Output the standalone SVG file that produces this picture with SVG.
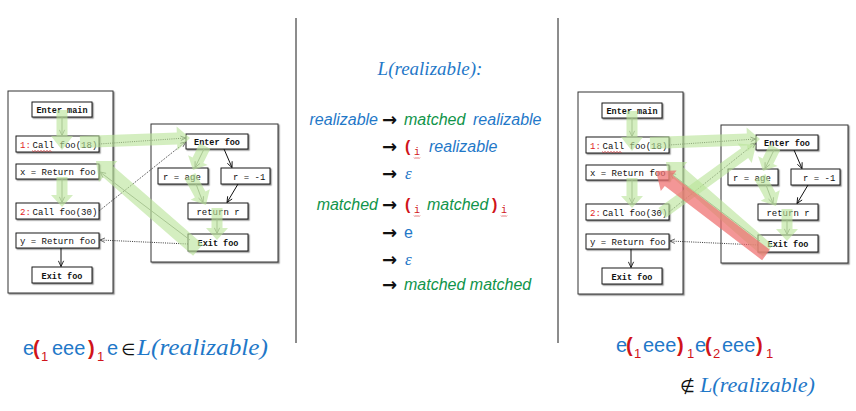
<svg xmlns="http://www.w3.org/2000/svg" width="856" height="411" viewBox="0 0 856 411">
<style>
.bx{fill:#fff;stroke:#1a1a1a;stroke-width:1;filter:url(#sh)}
.ob{fill:#fff;stroke:#333;stroke-width:1;filter:url(#sh)}
.t{font-family:"Liberation Mono","DejaVu Sans Mono",monospace;font-size:9px;fill:#111}
.tb{font-family:"Liberation Mono","DejaVu Sans Mono",monospace;font-size:8.5px;font-weight:bold;fill:#111}
.nr{fill:#e01e1e}
.gy{fill:none;stroke:#7f8a78;stroke-width:0.9}
.bk{fill:none;stroke:#111;stroke-width:1}
.dt{fill:none;stroke:#222;stroke-width:0.9;stroke-dasharray:1 1.2}
.g{fill:#b9e49a;fill-opacity:0.62}
.r{fill:#ee6e6e;fill-opacity:0.72}
.it{font-family:"Liberation Sans",Arial,sans-serif;font-style:italic;font-size:16px}
.up{font-family:"Liberation Sans",Arial,sans-serif;font-size:16px}
.ser{font-family:"Liberation Serif","Times New Roman",serif;font-style:italic}
.ar{font-family:"DejaVu Sans",sans-serif;font-weight:bold;font-size:18px;fill:#111}
.bl{fill:#1f78c8}
.gr{fill:#10944a}
.rd{fill:#d0141a}
.pb{font-weight:bold}
.sub{font-family:"Liberation Mono",monospace;font-size:10px;fill:#d0141a}
.wv{fill:none;stroke:#d0141a;stroke-width:0.6}
.big{font-family:"Liberation Sans",Arial,sans-serif;font-size:20px}
.bsub{font-family:"Liberation Sans",Arial,sans-serif;font-size:13px;fill:#d0141a}
.div{stroke:#1a1a1a;stroke-width:1}
</style>
<defs>
<filter id="sh" x="-10%" y="-10%" width="130%" height="140%">
<feDropShadow dx="1.2" dy="1.2" stdDeviation="0.7" flood-color="#000" flood-opacity="0.45"/>
</filter>
<marker id="mk" viewBox="0 0 8 8" refX="7.5" refY="4" markerWidth="7" markerHeight="7" orient="auto" markerUnits="userSpaceOnUse">
<path d="M1,1 L7.5,4 L1,7" fill="none" stroke="#111" stroke-width="1"/>
</marker>
<marker id="mg" viewBox="0 0 8 8" refX="7.5" refY="4" markerWidth="7" markerHeight="7" orient="auto" markerUnits="userSpaceOnUse">
<path d="M1,1 L7.5,4 L1,7" fill="none" stroke="#7f8a78" stroke-width="1"/>
</marker>
<marker id="md" viewBox="0 0 8 8" refX="7.5" refY="4" markerWidth="6" markerHeight="6" orient="auto" markerUnits="userSpaceOnUse">
<path d="M1,1 L7.5,4 L1,7" fill="none" stroke="#222" stroke-width="0.9"/>
</marker>
</defs>

<line class="div" x1="296" y1="18" x2="296" y2="343"/>
<line class="div" x1="558" y1="18" x2="558" y2="343"/>

<!-- LEFT DIAGRAM -->
<g id="left">
<g id="L-main-box"><rect class="ob" x="8" y="91" width="105" height="202"/></g>
<g id="L-foo-box"><rect class="ob" x="151" y="124" width="127" height="138"/></g>
<g id="L-enter-main"><rect class="bx" x="32" y="102" width="60" height="15"/><text class="tb" x="62" y="113" text-anchor="middle">Enter main</text></g>
<g id="L-call18"><rect class="bx" x="16" y="136" width="83" height="16"/><text class="t" x="20" y="148"><tspan class="nr">1:</tspan></text><text class="t" x="32.5" y="148">Call foo(18)</text><path class="wv" d="M32,150.5 l1.5,1 l1.5,-1 l1.5,1 l1.5,-1 l1.5,1 l1.5,-1 l1.5,1 l1.5,-1 l1.5,1 l1.5,-1 l1.5,1 l1.5,-1 l1.5,1"/></g>
<g id="L-ret1"><rect class="bx" x="16" y="164" width="83" height="15"/><text class="t" x="20" y="175">x = Return foo</text></g>
<g id="L-call30"><rect class="bx" x="16" y="203" width="83" height="16"/><text class="t" x="20" y="215"><tspan class="nr">2:</tspan></text><text class="t" x="32.5" y="215">Call foo(30)</text></g>
<g id="L-ret2"><rect class="bx" x="16" y="233" width="83" height="15"/><text class="t" x="20" y="244">y = Return foo</text></g>
<g id="L-exit-main"><rect class="bx" x="32" y="267" width="60" height="16"/><text class="tb" x="62" y="279" text-anchor="middle">Exit foo</text></g>
<g id="L-enter-foo"><rect class="bx" x="186" y="134" width="62" height="15"/><text class="tb" x="217" y="145" text-anchor="middle">Enter foo</text></g>
<g id="L-r-age"><rect class="bx" x="158" y="168" width="50" height="16"/><text class="t" x="163" y="180">r = age</text></g>
<g id="L-r-m1"><rect class="bx" x="221" y="168" width="49" height="16"/><text class="t" x="233" y="180">r = -1</text></g>
<g id="L-return-r"><rect class="bx" x="188" y="203" width="60" height="16"/><text class="t" x="218" y="215" text-anchor="middle">return r</text></g>
<g id="L-exit-foo"><rect class="bx" x="188" y="234" width="60" height="17"/><text class="tb" x="218" y="246" text-anchor="middle">Exit foo</text></g>
<g id="L-connectors">
<path class="gy" d="M62,117 L62,135.5" marker-end="url(#mg)"/>
<path class="gy" d="M62,179 L62,202.5" marker-end="url(#mg)"/>
<path class="gy" d="M204,149 L195,167.5" marker-end="url(#mg)"/>
<path class="gy" d="M196,184 L203,202.5" marker-end="url(#mg)"/>
<path class="gy" d="M217,219 L217,233.5" marker-end="url(#mg)"/>
<path class="gy" d="M190,240 L100,172" marker-end="url(#mg)"/>
<path class="bk" d="M224,149 L232,167.5" marker-end="url(#mk)"/>
<path class="bk" d="M238,184 L227,202.5" marker-end="url(#mk)"/>
<path class="bk" d="M61,248 L61,266.5" marker-end="url(#mk)"/>
<path class="dt" d="M99,144 L185.5,138" marker-end="url(#md)"/>
<path class="dt" d="M99,211 L185.5,142" marker-end="url(#md)"/>
<path class="dt" d="M188,244 L100,240" marker-end="url(#md)"/>
</g>
<g id="L-highlights">
<polygon class="g" points="56.5,110 56.5,136 51,136 62,150 73,136 67.5,136 67.5,110"/>
<polygon class="g" points="80.2,148 177.2,144.5 177.4,150.5 190,138 176.6,126.5 176.8,132.5 79.8,136"/>
<polygon class="g" points="199.6,143.3 192.6,157.5 188.1,155.3 193,170 207.7,165.1 203.3,162.9 210.4,148.7"/>
<polygon class="g" points="184.7,178.9 194.9,197.4 190.6,199.8 206,205 209.8,189.2 205.5,191.6 195.3,173.1"/>
<polygon class="g" points="211.5,208 211.5,228 206,228 217,240 228,228 222.5,228 222.5,208"/>
<polygon class="g" points="202.9,244.3 113,165.9 117.3,161 96,161 98.9,182.1 103.1,177.2 193.1,255.7"/>
<polygon class="g" points="56.5,177 56.5,195 51,195 62,207 73,195 67.5,195 67.5,177"/>
</g>
</g>

<!-- RIGHT DIAGRAM -->
<g id="right" transform="translate(570,1)">
<g id="R-main-box"><rect class="ob" x="8" y="91" width="105" height="202"/></g>
<g id="R-foo-box"><rect class="ob" x="151" y="124" width="127" height="138"/></g>
<g id="R-enter-main"><rect class="bx" x="32" y="102" width="60" height="15"/><text class="tb" x="62" y="113" text-anchor="middle">Enter main</text></g>
<g id="R-call18"><rect class="bx" x="16" y="136" width="83" height="16"/><text class="t" x="20" y="148"><tspan class="nr">1:</tspan></text><text class="t" x="32.5" y="148">Call foo(18)</text><path class="wv" d="M32,150.5 l1.5,1 l1.5,-1 l1.5,1 l1.5,-1 l1.5,1 l1.5,-1 l1.5,1 l1.5,-1 l1.5,1 l1.5,-1 l1.5,1 l1.5,-1 l1.5,1"/></g>
<g id="R-ret1"><rect class="bx" x="16" y="164" width="83" height="15"/><text class="t" x="20" y="175">x = Return foo</text></g>
<g id="R-call30"><rect class="bx" x="16" y="203" width="83" height="16"/><text class="t" x="20" y="215"><tspan class="nr">2:</tspan></text><text class="t" x="32.5" y="215">Call foo(30)</text></g>
<g id="R-ret2"><rect class="bx" x="16" y="233" width="83" height="15"/><text class="t" x="20" y="244">y = Return foo</text></g>
<g id="R-exit-main"><rect class="bx" x="32" y="267" width="60" height="16"/><text class="tb" x="62" y="279" text-anchor="middle">Exit foo</text></g>
<g id="R-enter-foo"><rect class="bx" x="186" y="134" width="62" height="15"/><text class="tb" x="217" y="145" text-anchor="middle">Enter foo</text></g>
<g id="R-r-age"><rect class="bx" x="158" y="168" width="50" height="16"/><text class="t" x="163" y="180">r = age</text></g>
<g id="R-r-m1"><rect class="bx" x="221" y="168" width="49" height="16"/><text class="t" x="233" y="180">r = -1</text></g>
<g id="R-return-r"><rect class="bx" x="188" y="203" width="60" height="16"/><text class="t" x="218" y="215" text-anchor="middle">return r</text></g>
<g id="R-exit-foo"><rect class="bx" x="188" y="234" width="60" height="17"/><text class="tb" x="218" y="246" text-anchor="middle">Exit foo</text></g>
<g id="R-connectors">
<path class="gy" d="M62,117 L62,135.5" marker-end="url(#mg)"/>
<path class="gy" d="M62,179 L62,202.5" marker-end="url(#mg)"/>
<path class="gy" d="M204,149 L195,167.5" marker-end="url(#mg)"/>
<path class="gy" d="M196,184 L203,202.5" marker-end="url(#mg)"/>
<path class="gy" d="M217,219 L217,233.5" marker-end="url(#mg)"/>
<path class="gy" d="M190,240 L100,172" marker-end="url(#mg)"/>
<path class="bk" d="M224,149 L232,167.5" marker-end="url(#mk)"/>
<path class="bk" d="M238,184 L227,202.5" marker-end="url(#mk)"/>
<path class="bk" d="M61,248 L61,266.5" marker-end="url(#mk)"/>
<path class="dt" d="M99,144 L185.5,138" marker-end="url(#md)"/>
<path class="dt" d="M99,211 L185.5,142" marker-end="url(#md)"/>
<path class="dt" d="M188,244 L100,240" marker-end="url(#md)"/>
</g>
<g id="R-highlights">
<polygon class="g" points="56.5,110 56.5,136 51,136 62,150 73,136 67.5,136 67.5,110"/>
<polygon class="g" points="80.2,148 177.2,144.5 177.4,150.5 190,138 176.6,126.5 176.8,132.5 79.8,136"/>
<polygon class="g" points="199.6,143.3 192.6,157.5 188.1,155.3 193,170 207.7,165.1 203.3,162.9 210.4,148.7"/>
<polygon class="g" points="184.7,178.9 194.9,197.4 190.6,199.8 206,205 209.8,189.2 205.5,191.6 195.3,173.1"/>
<polygon class="g" points="211.5,208 211.5,228 206,228 217,240 228,228 222.5,228 222.5,208"/>
<polygon class="g" points="202.9,244.3 113,165.9 117.3,161 96,161 98.9,182.1 103.1,177.2 193.1,255.7"/>
<polygon class="g" points="56.5,177 56.5,195 51,195 62,207 73,195 67.5,195 67.5,177"/>
<polygon class="g" points="95.5,216.9 178.2,157.1 181.7,161.9 186,144 167.6,142.5 171.1,147.3 88.5,207.1"/>
<polygon class="r" points="199.9,248.8 102.7,174.5 106.6,169.4 86,170 90.8,190 94.8,184.9 192.1,259.2"/>
</g>
</g>

<!-- GRAMMAR -->
<g id="grammar">
<text class="ser bl" x="430" y="75" font-size="19" text-anchor="middle">L(realizable):</text>

<text class="it bl" x="378" y="125" text-anchor="end">realizable</text>
<text class="ar" x="382" y="126">→</text>
<text class="it gr" x="404" y="125">matched</text>
<text class="it bl" x="473" y="125">realizable</text>

<text class="ar" x="382" y="153">→</text>
<text class="up rd pb" x="405" y="152" font-size="17">(</text>
<text class="sub" x="414" y="155">i</text>
<path class="wv" d="M414,157.5 l1,1 l1,-1 l1,1 l1,-1 l1,1 l1,-1"/>
<text class="it bl" x="429" y="152">realizable</text>

<text class="ar" x="382" y="180">→</text>
<text class="ser bl" x="405" y="179" font-size="17">ε</text>

<text class="it gr" x="378" y="210" text-anchor="end">matched</text>
<text class="ar" x="382" y="211">→</text>
<text class="up rd pb" x="405" y="210" font-size="17">(</text>
<text class="sub" x="414" y="213">i</text>
<path class="wv" d="M414,215.5 l1,1 l1,-1 l1,1 l1,-1 l1,1 l1,-1"/>
<text class="it gr" x="427" y="210">matched</text>
<text class="up rd pb" x="492" y="210" font-size="17">)</text>
<text class="sub" x="501" y="213">i</text>
<path class="wv" d="M501,215.5 l1,1 l1,-1 l1,1 l1,-1 l1,1 l1,-1"/>

<text class="ar" x="382" y="239">→</text>
<text class="up bl" x="404" y="238">e</text>

<text class="ar" x="382" y="266">→</text>
<text class="ser bl" x="405" y="265" font-size="17">ε</text>

<text class="ar" x="382" y="291">→</text>
<text class="it gr" x="404" y="290">matched matched</text>
</g>

<!-- BOTTOM LEFT -->
<g id="expr-left">
<text class="big bl" x="23" y="355">e</text>
<text class="big rd pb" x="33" y="355">(</text>
<text class="bsub" x="41" y="361">1</text>
<text class="big bl" x="52" y="355">eee</text>
<text class="big rd pb" x="88" y="355">)</text>
<text class="bsub" x="97" y="361">1</text>
<text class="big bl" x="107" y="355">e</text>
<text x="121.5" y="355" font-family="DejaVu Sans,sans-serif" font-size="16" fill="#111">∈</text>
<text class="ser bl" x="137" y="355" font-size="23" textLength="131" lengthAdjust="spacingAndGlyphs">L(realizable)</text>
</g>

<!-- BOTTOM RIGHT -->
<g id="expr-right">
<text class="big bl" x="616" y="352">e</text>
<text class="big rd pb" x="626" y="352">(</text>
<text class="bsub" x="634" y="358">1</text>
<text class="big bl" x="643" y="352">eee</text>
<text class="big rd pb" x="677" y="352">)</text>
<text class="bsub" x="687" y="358">1</text>
<text class="big bl" x="695" y="352">e</text>
<text class="big rd pb" x="705" y="352">(</text>
<text class="bsub" x="713" y="358">2</text>
<text class="big bl" x="722" y="352">eee</text>
<text class="big rd pb" x="756" y="352">)</text>
<text class="bsub" x="766" y="358">1</text>
<text x="680" y="392" font-family="DejaVu Sans,sans-serif" font-size="17" fill="#111">∉</text>
<text class="ser bl" x="700" y="392" font-size="21" textLength="115" lengthAdjust="spacingAndGlyphs">L(realizable)</text>
</g>
</svg>
